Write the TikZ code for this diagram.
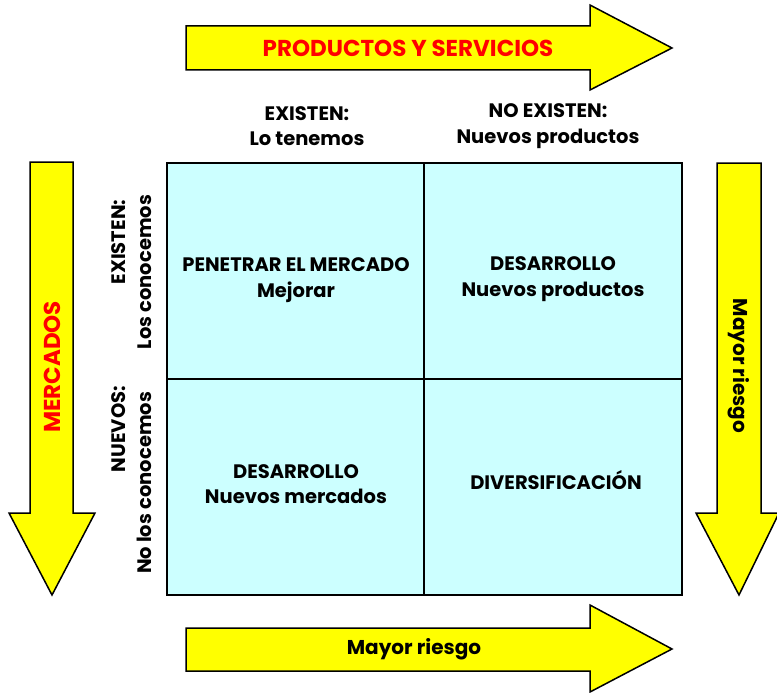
\documentclass[tikz,border=0pt]{standalone}
\usepackage{fontspec}
\setmainfont{Poppins}
\definecolor{arrowyellow}{HTML}{FFFF00}
\definecolor{lblred}{HTML}{FF0000}
\definecolor{cellcyan}{HTML}{CCFFFF}
\begin{document}
\begin{tikzpicture}[x=1pt,y=-1pt,
  bigarrow/.style={draw=black,line width=1.5pt,fill=arrowyellow,line join=miter},
  cellbox/.style={draw=black,line width=2pt,fill=cellcyan},
  lbl/.style={font=\fontsize{19.5}{25.5}\selectfont\bfseries,align=center,inner sep=0pt},
  redlbl/.style={font=\fontsize{23}{26}\selectfont\bfseries,text=lblred,inner sep=0pt},
  risk/.style={font=\fontsize{20}{24}\selectfont\bfseries,inner sep=0pt}]
\useasboundingbox (0,0) rectangle (777,693);
% arrows
\draw[bigarrow] (186,26) -- (590,26) -- (590,5) -- (672,48) -- (590,90) -- (590,70) -- (186,70) -- cycle;
\draw[bigarrow] (186,628) -- (590,628) -- (590,605) -- (672,649) -- (590,692) -- (590,671) -- (186,671) -- cycle;
\draw[bigarrow] (30,162) -- (73,162) -- (73,513) -- (95,513) -- (52,595) -- (9,513) -- (30,513) -- cycle;
\draw[bigarrow] (717,163) -- (761,163) -- (761,513) -- (779,513) -- (739,595) -- (696,513) -- (717,513) -- cycle;
\node[redlbl] (prod) at (408,48) {PRODUCTOS Y SERVICIOS};
\node[risk] (riskh) at (414,649) {Mayor riesgo};
\node[redlbl,rotate=90] (merc) at (52,367) {MERCADOS};
\node[risk,rotate=-90] (riskv) at (739,366) {Mayor riesgo};
% grid
\draw[cellbox] (167,163) rectangle (682,595);
\draw[line width=2pt] (424,163) -- (424,595);
\draw[line width=2pt] (167,379) -- (682,379);
% column headers
\node[lbl] (h1) at (307,126) {EXISTEN:\\Lo tenemos};
\node[lbl] (h2) at (548,126) {NO EXISTEN:\\Nuevos productos};
% row headers
\node[lbl,rotate=90,anchor=base] (r1a) at (125,242) {EXISTEN:};
\node[lbl,rotate=90,anchor=base] (r1b) at (151,272) {Los conocemos};
\node[lbl,rotate=90,anchor=base] (r2a) at (125,429) {NUEVOS:};
\node[lbl,rotate=90,anchor=base] (r2b) at (151,483) {No los conocemos};
% cells
\node[lbl] (c11) at (296,280) {PENETRAR EL MERCADO\\Mejorar};
\node[lbl] (c12) at (553,279) {DESARROLLO\\Nuevos productos};
\node[lbl] (c21) at (296,484) {DESARROLLO\\Nuevos mercados};
\node[lbl] (c22) at (556,480) {DIVERSIFICACIÓN};
\end{tikzpicture}
\end{document}
